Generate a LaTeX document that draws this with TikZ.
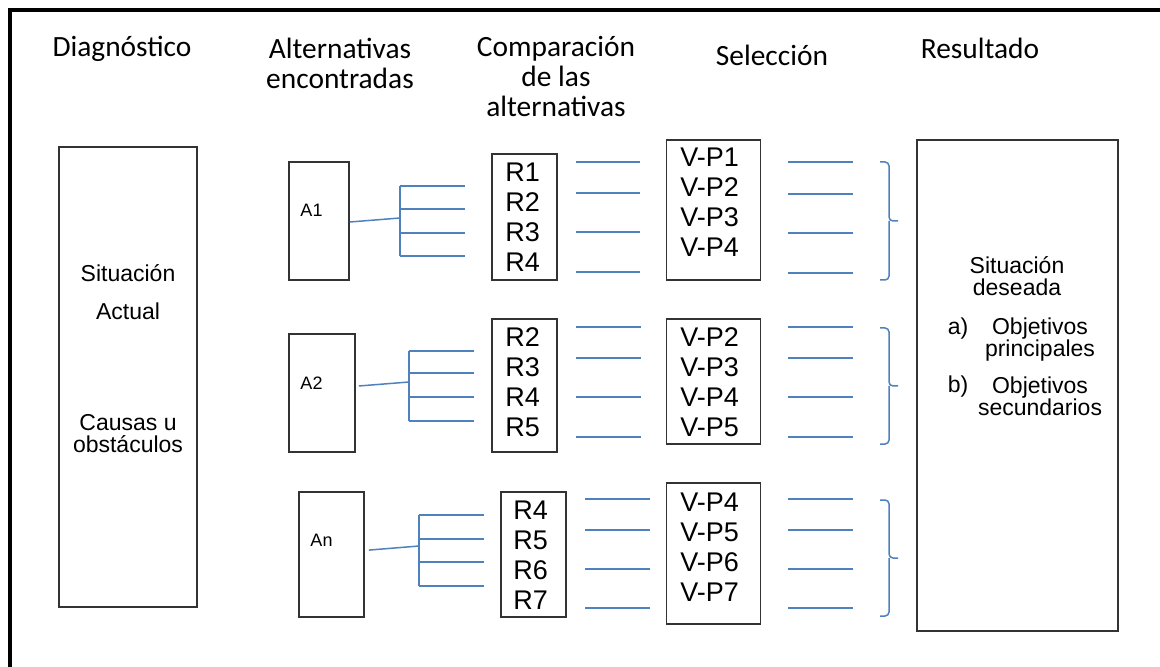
\documentclass[tikz,border=0pt]{standalone}
\usepackage{fontspec}
\setmainfont{Liberation Sans}
\newfontfamily\headfont{Carlito}
\definecolor{linkblue}{RGB}{79,129,189}

\tikzset{
  box/.style={draw=black!80, line width=0.8pt, inner sep=0pt},
  link/.style={draw=linkblue, line width=0.75pt},
  head/.style={font=\headfont\fontsize{14.7}{15}\selectfont, align=center, inner sep=0pt},
  txt/.style={font=\fontsize{11.5}{11}\selectfont, align=center, inner sep=0pt},
  lst/.style={font=\fontsize{13.5}{15}\selectfont, align=left, inner sep=0pt, anchor=west},
  alt/.style={font=\fontsize{9}{10}\selectfont, inner sep=0pt},
}

\begin{document}
\begin{tikzpicture}[x=0.5pt, y=-0.5pt]
    \useasboundingbox (0,0) rectangle (1160,667);
    \draw [line width=2pt] (10,667) -- (10,10) -- (1160,10);

    % column heads
    \node [head] (hdiag) at (122,49) {Diagnóstico};
    \node [head] (halt) at (340,63) {Alternativas\\encontradas};
    \node [head] (hcomp) at (556,77) {Comparación\\de las\\alternativas};
    \node [head] (hsel) at (772,55) {Selección};
    \node [head] (hres) at (980,48) {Resultado};

    % diagnostico
    \node [box, minimum width=69pt, minimum height=230pt] (diag) at (128,377) {};
    \node [txt] (sact) at (128,273) {Situación};
    \node [txt] (act) at (128,311) {Actual};
    \node [txt] (caus) at (128,434) {Causas u\\obstáculos};

    % alternativas
    \node [box, minimum width=30pt, minimum height=59pt] (a1) at (319,221) {};
    \node [box, minimum width=33pt, minimum height=59pt] (a2) at (322,393) {};
    \node [box, minimum width=32.5pt, minimum height=62.5pt] (an) at (331.5,554.5) {};
    \node [alt] (la1) at (311.5,210) {A1};
    \node [alt] (la2) at (311.5,383) {A2};
    \node [alt] (lan) at (321.5,540) {An};

    \coordinate (f1) at (400,218);
    \coordinate (f2) at (409,382);
    \coordinate (fn) at (419,546);
    \draw [link] ([yshift=-0.5pt]a1.east) -- (f1);
    \draw [link] ([xshift=1.5pt, yshift=3.5pt]a2.east) -- (f2);
    \draw [link] ([xshift=2pt, yshift=2.2pt]an.east) -- (fn);
    \draw [link] (400,186) -- (400,256);
    \draw [link] (409,351) -- (409,421);
    \draw [link] (419,515) -- (419,586);
    \foreach \y in {186,209,233,256} \draw [link] (400,\y) -- (465,\y);
    \foreach \y in {351,373,397,421} \draw [link] (409,\y) -- (474,\y);
    \foreach \y in {515,539,562,586} \draw [link] (419,\y) -- (484,\y);

    % comparacion
    \node [box, minimum width=32.5pt, minimum height=63pt] (r1) at (524.5,217) {};
    \node [box, minimum width=32.5pt, minimum height=66.5pt] (r2) at (524.5,385.5) {};
    \node [box, minimum width=32.5pt, minimum height=62.5pt] (rn) at (533.5,554.5) {};
    \node [lst] (lr1) at (505,217.5) {R1\\R2\\R3\\R4};
    \node [lst] (lr2) at (505,382.5) {R2\\R3\\R4\\R5};
    \node [lst] (lrn) at (513,555) {R4\\R5\\R6\\R7};
    \foreach \y in {162,193,232,272} \draw [link] (576,\y) -- (640,\y);
    \foreach \y in {327,358,397,437} \draw [link] (576,\y) -- (641,\y);
    \foreach \y in {499,530,569,608} \draw [link] (585,\y) -- (650,\y);

    % seleccion
    \node [box, minimum width=47pt, minimum height=70pt] (s1) at (713.5,210) {};
    \node [box, minimum width=47pt, minimum height=62.5pt] (s2) at (713.5,381.5) {};
    \node [box, minimum width=47pt, minimum height=70.5pt] (sn) at (713.5,553.5) {};
    \node [lst] (ls1) at (680,202.5) {V-P1\\V-P2\\V-P3\\V-P4};
    \node [lst] (ls2) at (680,382) {V-P2\\V-P3\\V-P4\\V-P5};
    \node [lst] (lsn) at (680,547.5) {V-P4\\V-P5\\V-P6\\V-P7};
    \foreach \y in {162,194,233,273} \draw [link] (788,\y) -- (853,\y);
    \foreach \y in {327,358,397,437} \draw [link] (788,\y) -- (853,\y);
    \foreach \y in {499,530,569,608} \draw [link] (788,\y) -- (853,\y);

    % llaves
    \draw [link, rounded corners=2pt] (880,162) -| (889,221) -- (898,221);
    \draw [link, rounded corners=2pt] (880,280) -| (889,221);
    \draw [link, rounded corners=2pt] (880,328) -| (889,386) -- (898,386);
    \draw [link, rounded corners=2pt] (880,444) -| (889,386);
    \draw [link, rounded corners=2pt] (880,500) -| (889,558) -- (898,558);
    \draw [link, rounded corners=2pt] (880,616) -| (889,558);

    % resultado
    \node [box, minimum width=100.5pt, minimum height=245.5pt] (res) at (1017.5,385.5) {};
    \node [txt] (sdes) at (1017,276) {Situación\\deseada};
    \node [txt] (ia) at (958,329) {a)};
    \node [txt] (oprin) at (1040,340) {Objetivos\\principales};
    \node [txt] (ib) at (958,387) {b)};
    \node [txt] (osec) at (1040,396) {Objetivos\\secundarios};
\end{tikzpicture}
\end{document}
